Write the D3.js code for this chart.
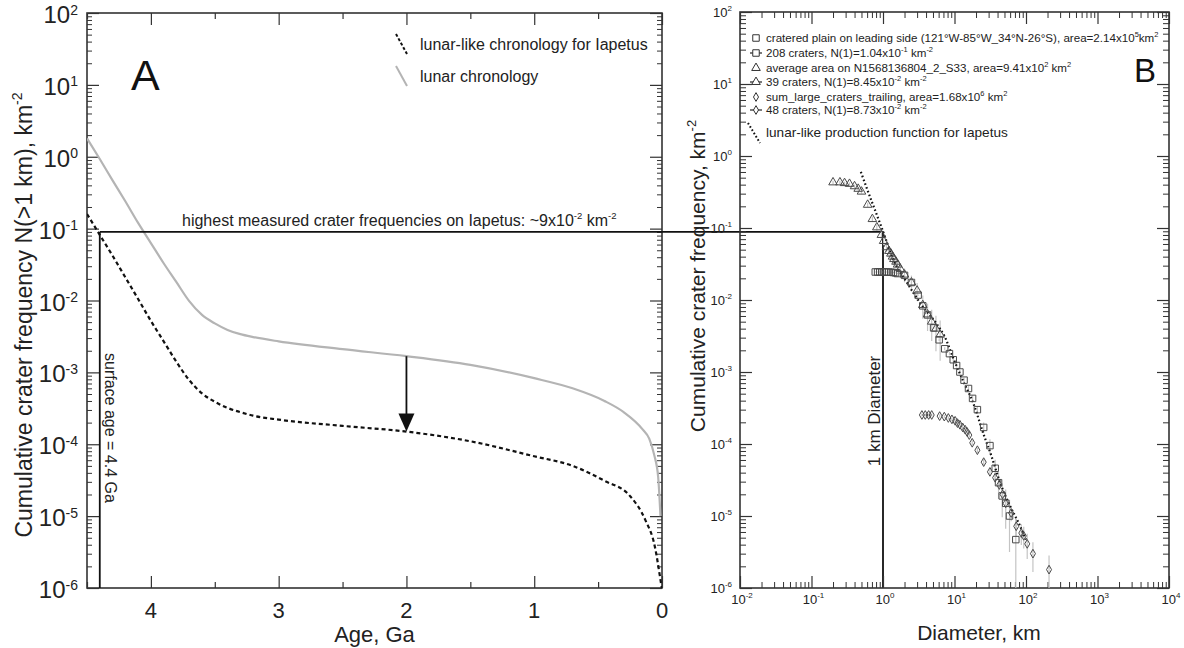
<!DOCTYPE html>
<html>
<head>
<meta charset="utf-8">
<script src="https://cdn.jsdelivr.net/npm/d3@7"></script>
<style>
  html, body { margin: 0; padding: 0; background: #fff; }
  svg { display: block; font-family: "Liberation Sans", Arial, Helvetica, sans-serif; }
</style>
</head>
<body>
<svg id="chart" width="1184" height="648"></svg>
<script>
// ---------- Panel A: crater frequency N(>1 km) versus surface age ----------
const lunarAges = [4.5, 4.4, 4.3, 4.2, 4.1, 4.0, 3.9, 3.8, 3.7, 3.6, 3.5, 3.4, 3.3, 3.2, 3.0,
                   2.5, 2.0, 1.5, 1.0, 0.7, 0.45, 0.3, 0.15, 0.1, 0.06, 0.03, 0.012];
const lunarN    = [1.8, 0.93, 0.47, 0.24, 0.12, 0.063, 0.033, 0.018, 0.0098, 0.0063, 0.0048, 0.0039,
                   0.0034, 0.0031, 0.0027, 0.0021, 0.00168, 0.00127, 0.00083, 0.0006, 0.0004,
                   0.00028, 0.00016, 0.00012, 0.00007, 0.000035, 0.00001];

const iapetusAges = [4.5, 4.4, 4.3, 4.2, 4.1, 4.0, 3.9, 3.8, 3.7, 3.6, 3.5, 3.4, 3.3, 3.2, 3.0,
                     2.5, 2.0, 1.5, 1.0, 0.7, 0.45, 0.25, 0.13, 0.055, 0.016, 0.002];
const iapetusN    = [0.16, 0.082, 0.042, 0.021, 0.0105, 0.0052, 0.0027, 0.0014, 0.00078, 0.00051,
                     0.00039, 0.00032, 0.00028, 0.00025, 0.00022, 0.00018, 0.00015, 0.00011,
                     0.000068, 0.00005, 0.000031, 0.000019, 0.0000088, 0.0000037, 0.00000145, 0.000001];

const ageMajorTicks = [4, 3, 2, 1, 0];
const ageMinorTicks = [4.5, 3.5, 2.5, 1.5, 0.5];
const freqExponents = [2, 1, 0, -1, -2, -3, -4, -5, -6];
const diamExponents = [-2, -1, 0, 1, 2, 3, 4];

const highestN = 0.09;      // highest measured N(1) on Iapetus
const surfaceAge = 4.4;     // Ga
const arrowAge = 2.0;       // Ga

// ---------- Panel B: cumulative size-frequency distributions ----------
// cratered plain on the leading side (squares)
const plainD = [0.78, 0.84, 0.9, 0.97, 1.04, 1.12, 1.2, 1.3, 1.4, 1.5, 1.6, 2.0, 2.5, 3.1, 3.6,
                4.2, 5.1, 6.1, 7.3, 8.5, 9.6, 10.7, 11.9, 13.6, 15.7, 17.9, 20.9, 25.6, 31.3,
                37.1, 41.3, 46.5, 52, 58.8, 72];
const plainN = [0.0245, 0.0245, 0.0245, 0.0245, 0.0245, 0.0245, 0.0244, 0.0243, 0.0241, 0.0238,
                0.0233, 0.022, 0.0175, 0.0117, 0.0083, 0.0062, 0.0041, 0.0028, 0.0021, 0.0018,
                0.00148, 0.00123, 0.001, 0.00077, 0.00059, 0.00043, 0.0003, 0.00017, 0.000095,
                0.000046, 0.000029, 0.000019, 0.000015, 0.00001, 0.0000047];
const plainArea = 2.14e5;

// average area on N1568136804_2_S33 (triangles)
const avgD = [0.2, 0.25, 0.29, 0.34, 0.4, 0.45, 0.5, 0.61, 0.71, 0.82, 0.95, 1.02, 1.12, 1.21,
              1.29, 1.36, 1.42, 1.52, 1.6, 1.75, 2.0, 2.5, 3.0, 3.6, 4.2, 4.8, 5.5, 6.3];
const avgN = [0.43, 0.43, 0.42, 0.41, 0.38, 0.35, 0.32, 0.21, 0.133, 0.102, 0.08, 0.066, 0.054,
              0.048, 0.044, 0.04, 0.037, 0.034, 0.031, 0.027, 0.0225, 0.0175, 0.0135, 0.0085,
              0.0063, 0.005, 0.004, 0.0033];
const avgArea = 9.41e2;

// sum of large craters on the trailing side (diamonds)
const trailD = [3.5, 3.9, 4.35, 4.8, 6.2, 7.2, 8.2, 9.2, 10.2, 11.0, 11.9, 13.0, 14.1, 15.0, 16.1,
                17.7, 20.9, 25.6, 31.3, 37, 42.3, 47, 52, 62, 73, 86, 93, 104, 125, 210];
const trailN = [2.53e-4, 2.53e-4, 2.53e-4, 2.53e-4, 2.44e-4, 2.4e-4, 2.3e-4, 2.2e-4, 2.1e-4,
                1.95e-4, 1.85e-4, 1.7e-4, 1.58e-4, 1.47e-4, 1.33e-4, 1.04e-4, 8.2e-5, 5.6e-5,
                4.1e-5, 3.4e-5, 2.7e-5, 2.0e-5, 1.5e-5, 1.1e-5, 7.2e-6, 5.8e-6, 5.3e-6, 4.1e-6,
                3.0e-6, 1.8e-6];
const trailArea = 1.68e6;

// lunar-like production function for Iapetus (dotted)
const prodD = [0.49, 0.7, 1.0, 1.4, 2.15, 3.6, 5.6, 7.3, 9.6, 13.2, 18.3, 25.3, 33.2, 43.5, 60, 78.5, 100];
const prodN = [0.6, 0.23, 0.09, 0.036, 0.0176, 0.0081, 0.0047, 0.0031, 0.00156, 0.00075, 0.00037,
               0.00014, 0.000066, 0.000029, 0.0000137, 0.0000081, 0.0000047];

// ---------- layout ----------
const AXIS = "#333";
const svg = d3.select("#chart");

const PA = { x0: 87, x1: 662, y0: 13, y1: 588 };
const PB = { x0: 740, x1: 1169, y0: 12, y1: 588 };

const xAge = d3.scaleLinear().domain([4.5, 0]).range([PA.x0, PA.x1]);
const yA = d3.scaleLog().domain([1e-6, 1e2]).range([PA.y1, PA.y0]);
const xD = d3.scaleLog().domain([1e-2, 1e4]).range([PB.x0, PB.x1]);
const yB = d3.scaleLog().domain([1e-6, 1e2]).range([PB.y1, PB.y0]);

const decades = d3.range(-6, 3).map(e => Math.pow(10, e));
const minorFreq = [];
for (let e = -6; e < 2; e++) for (let m = 2; m <= 9; m++) minorFreq.push(m * Math.pow(10, e));
const diamDecades = diamExponents.map(e => Math.pow(10, e));
const minorDiam = [];
for (let e = -2; e < 4; e++) for (let m = 2; m <= 9; m++) minorDiam.push(m * Math.pow(10, e));

// text with superscript parts: parts = ["10", ["-2"]]
function rich(sel, parts, fs, ss, rise) {
  let off = 0;
  parts.forEach(p => {
    const sup = Array.isArray(p);
    const want = sup ? -rise : 0;
    sel.append("tspan")
      .attr("dy", want - off)
      .attr("font-size", sup ? ss : fs)
      .text(sup ? p[0] : p);
    off = want;
  });
  return sel;
}

function tickGroup(axisFn, scale, values, size, transform, width) {
  svg.append("g")
    .attr("transform", transform)
    .call(axisFn(scale).tickValues(values).tickSize(size).tickSizeOuter(0).tickFormat(""))
    .call(g => g.select(".domain").remove())
    .call(g => g.selectAll("text").remove())
    .call(g => g.selectAll("line").attr("stroke", AXIS).attr("stroke-width", width || 1.2));
}

// ---------- Panel A axes ----------
tickGroup(d3.axisLeft, yA, decades, -12, `translate(${PA.x0},0)`);
tickGroup(d3.axisLeft, yA, minorFreq, -5, `translate(${PA.x0},0)`, 1);
tickGroup(d3.axisRight, yA, decades, -12, `translate(${PA.x1},0)`);
tickGroup(d3.axisRight, yA, minorFreq, -5, `translate(${PA.x1},0)`, 1);
tickGroup(d3.axisBottom, xAge, ageMajorTicks, -12, `translate(0,${PA.y1})`);
tickGroup(d3.axisBottom, xAge, ageMinorTicks, -6, `translate(0,${PA.y1})`);
tickGroup(d3.axisTop, xAge, ageMajorTicks, -12, `translate(0,${PA.y0})`);
tickGroup(d3.axisTop, xAge, ageMinorTicks, -6, `translate(0,${PA.y0})`);

svg.append("rect")
  .attr("x", PA.x0).attr("y", PA.y0)
  .attr("width", PA.x1 - PA.x0).attr("height", PA.y1 - PA.y0)
  .attr("fill", "none").attr("stroke", AXIS).attr("stroke-width", 1.6);

freqExponents.forEach(e => {
  const t = svg.append("text")
    .attr("x", PA.x0 - 9).attr("y", yA(Math.pow(10, e)) + 10)
    .attr("text-anchor", "end").attr("fill", "#222");
  rich(t, ["10", [String(e)]], 24, 14, 8.5);
});

ageMajorTicks.forEach(a => {
  svg.append("text")
    .attr("x", xAge(a)).attr("y", PA.y1 + 30)
    .attr("text-anchor", "middle").attr("font-size", 22).attr("fill", "#222")
    .text(String(a));
});

svg.append("text")
  .attr("x", (PA.x0 + PA.x1) / 2).attr("y", 642)
  .attr("text-anchor", "middle").attr("font-size", 22).attr("fill", "#222")
  .text("Age, Ga");

{
  const t = svg.append("text")
    .attr("transform", `translate(32,${315}) rotate(-90)`)
    .attr("text-anchor", "middle").attr("fill", "#222");
  rich(t, ["Cumulative crater frequency N(>1 km), km", ["-2"]], 23, 14, 10);
}

svg.append("text")
  .attr("x", 131).attr("y", 90)
  .attr("font-size", 43).attr("fill", "#111")
  .text("A");

// ---------- Panel A curves ----------
svg.append("clipPath").attr("id", "clipA")
  .append("rect").attr("x", PA.x0).attr("y", PA.y0)
  .attr("width", PA.x1 - PA.x0).attr("height", PA.y1 - PA.y0);

const lineA = d3.line().x(d => xAge(d[0])).y(d => yA(d[1])).curve(d3.curveMonotoneX);
const gA = svg.append("g").attr("clip-path", "url(#clipA)");

gA.append("path")
  .datum(lunarAges.map((a, i) => [a, lunarN[i]]))
  .attr("d", lineA)
  .attr("fill", "none").attr("stroke", "#b4b4b4").attr("stroke-width", 2.2);

gA.append("path")
  .datum(iapetusAges.map((a, i) => [a, iapetusN[i]]))
  .attr("d", lineA)
  .attr("fill", "none").attr("stroke", "#111").attr("stroke-width", 2.2)
  .attr("stroke-dasharray", "4,3");

// arrow from the lunar curve down to the Iapetus curve
{
  const ax = xAge(arrowAge);
  const yTop = yA(lunarN[lunarAges.indexOf(arrowAge)]);
  const yTip = yA(iapetusN[iapetusAges.indexOf(arrowAge)]);
  const headL = 18, headW = 8;
  svg.append("line")
    .attr("x1", ax).attr("x2", ax).attr("y1", yTop).attr("y2", yTip - headL + 2)
    .attr("stroke", "#111").attr("stroke-width", 1.8);
  svg.append("path")
    .attr("d", `M${ax - headW},${yTip - headL} L${ax + headW},${yTip - headL} L${ax},${yTip} Z`)
    .attr("fill", "#111");
}

// legend of panel A
{
  svg.append("line").attr("x1", 396).attr("y1", 34).attr("x2", 407).attr("y2", 54)
    .attr("stroke", "#111").attr("stroke-width", 2).attr("stroke-dasharray", "3,2");
  svg.append("text").attr("x", 420).attr("y", 50).attr("font-size", 16).attr("fill", "#222")
    .text("lunar-like chronology for Iapetus");
  svg.append("line").attr("x1", 396).attr("y1", 66).attr("x2", 407).attr("y2", 86)
    .attr("stroke", "#b4b4b4").attr("stroke-width", 2);
  svg.append("text").attr("x", 420).attr("y", 82).attr("font-size", 16).attr("fill", "#222")
    .text("lunar chronology");
}

// ---------- reference lines joining both panels ----------
{
  const yH = yA(highestN);
  const xS = xAge(surfaceAge);
  const x1 = xD(1);
  svg.append("line").attr("x1", xS).attr("x2", x1).attr("y1", yH).attr("y2", yH)
    .attr("stroke", "#111").attr("stroke-width", 1.8);
  svg.append("line").attr("x1", xS).attr("x2", xS).attr("y1", yH).attr("y2", PA.y1)
    .attr("stroke", "#111").attr("stroke-width", 1.8);
  svg.append("line").attr("x1", x1).attr("x2", x1).attr("y1", yB(highestN)).attr("y2", PB.y1)
    .attr("stroke", "#111").attr("stroke-width", 1.8);

  const t = svg.append("text").attr("x", 182).attr("y", yH - 6).attr("fill", "#222");
  rich(t, ["highest measured crater frequencies on Iapetus: ~9x10", ["-2"], " km", ["-2"]], 16, 9.5, 7);

  svg.append("text")
    .attr("transform", `translate(${xS + 5},353) rotate(90)`)
    .attr("font-size", 16).attr("fill", "#222")
    .text("surface age = 4.4 Ga");

  svg.append("text")
    .attr("transform", `translate(${x1 - 3},411) rotate(-90)`)
    .attr("text-anchor", "middle")
    .attr("font-size", 17).attr("fill", "#222")
    .text("1 km Diameter");
}

// ---------- Panel B axes ----------
tickGroup(d3.axisLeft, yB, decades, -12, `translate(${PB.x0},0)`);
tickGroup(d3.axisLeft, yB, minorFreq, -6, `translate(${PB.x0},0)`, 1);
tickGroup(d3.axisRight, yB, decades, -12, `translate(${PB.x1},0)`);
tickGroup(d3.axisRight, yB, minorFreq, -6, `translate(${PB.x1},0)`, 1);
tickGroup(d3.axisBottom, xD, diamDecades, -12, `translate(0,${PB.y1})`);
tickGroup(d3.axisBottom, xD, minorDiam, -6, `translate(0,${PB.y1})`, 1);
tickGroup(d3.axisTop, xD, diamDecades, -12, `translate(0,${PB.y0})`);
tickGroup(d3.axisTop, xD, minorDiam, -6, `translate(0,${PB.y0})`, 1);

svg.append("rect")
  .attr("x", PB.x0).attr("y", PB.y0)
  .attr("width", PB.x1 - PB.x0).attr("height", PB.y1 - PB.y0)
  .attr("fill", "none").attr("stroke", AXIS).attr("stroke-width", 1.6);

freqExponents.forEach(e => {
  const t = svg.append("text")
    .attr("x", PB.x0 - 8).attr("y", yB(Math.pow(10, e)) + 5)
    .attr("text-anchor", "end").attr("fill", "#222");
  rich(t, ["10", [String(e)]], 13, 8, 6);
});

diamExponents.forEach(e => {
  const t = svg.append("text")
    .attr("x", xD(Math.pow(10, e)) + 2).attr("y", PB.y1 + 16)
    .attr("text-anchor", "middle").attr("fill", "#222");
  rich(t, ["10", [String(e)]], 13, 8, 6);
});

svg.append("text")
  .attr("x", 979).attr("y", 640)
  .attr("text-anchor", "middle").attr("font-size", 21).attr("fill", "#222")
  .text("Diameter, km");

{
  const t = svg.append("text")
    .attr("transform", `translate(705,276) rotate(-90)`)
    .attr("text-anchor", "middle").attr("fill", "#222");
  rich(t, ["Cumulative crater frequency, km", ["-2"]], 21, 13, 9);
}

svg.append("text")
  .attr("x", 1134).attr("y", 82)
  .attr("font-size", 33).attr("fill", "#111")
  .text("B");

// ---------- Panel B data ----------
svg.append("clipPath").attr("id", "clipB")
  .append("rect").attr("x", PB.x0).attr("y", PB.y0)
  .attr("width", PB.x1 - PB.x0).attr("height", PB.y1 - PB.y0);
const gB = svg.append("g").attr("clip-path", "url(#clipB)");

const MARK = "#4a4a4a";
const symSquare = d3.symbol().type(d3.symbolSquare).size(42);
const symTriangle = d3.symbol().type(d3.symbolTriangle).size(32);
const symDiamond = d3.symbol().type(d3.symbolDiamond).size(22);

function series(D, N, area) {
  const pts = D.map((d, i) => ({ d, n: N[i] }));
  // Poisson error bars from the crater count in the counting area
  gB.append("g").selectAll("line").data(pts).join("line")
    .attr("x1", p => xD(p.d)).attr("x2", p => xD(p.d))
    .attr("y1", p => yB(p.n + Math.sqrt(p.n / area)))
    .attr("y2", p => {
      const lo = p.n - Math.sqrt(p.n / area);
      return lo > 1e-7 ? yB(lo) : PB.y1 + 5;
    })
    .attr("stroke", "#c4c4c4").attr("stroke-width", 1.2);
  return pts;
}
function markers(pts, sym) {
  gB.append("g").selectAll("path").data(pts).join("path")
    .attr("transform", p => `translate(${xD(p.d)},${yB(p.n)})`)
    .attr("d", sym)
    .attr("fill", "none").attr("stroke", MARK).attr("stroke-width", 1);
}

const plainPts = series(plainD, plainN, plainArea);
const avgPts = series(avgD, avgN, avgArea);
const trailPts = series(trailD, trailN, trailArea);

gB.append("path")
  .datum(prodD.map((d, i) => [d, prodN[i]]))
  .attr("d", d3.line().x(p => xD(p[0])).y(p => yB(p[1])).curve(d3.curveMonotoneX))
  .attr("fill", "none").attr("stroke", "#111").attr("stroke-width", 2.2)
  .attr("stroke-dasharray", "1.6,2.4");

markers(plainPts, symSquare);
markers(avgPts, symTriangle);
markers(trailPts, symDiamond);

// legend of panel B
{
  const lx = 756, tx = 766, fs = 11.6;
  const rows = [
    { y: 38, sym: symSquare, line: false,
      parts: ["cratered plain on leading side (121°W-85°W_34°N-26°S), area=2.14x10", ["5"], "km", ["2"]] },
    { y: 53, sym: symSquare, line: true,
      parts: ["208 craters, N(1)=1.04x10", ["-1"], " km", ["-2"]] },
    { y: 68, sym: symTriangle, line: false,
      parts: ["average area on N1568136804_2_S33, area=9.41x10", ["2"], " km", ["2"]] },
    { y: 82, sym: symTriangle, line: true,
      parts: ["39 craters, N(1)=8.45x10", ["-2"], " km", ["-2"]] },
    { y: 97, sym: symDiamond, line: false,
      parts: ["sum_large_craters_trailing, area=1.68x10", ["6"], " km", ["2"]] },
    { y: 110, sym: symDiamond, line: true,
      parts: ["48 craters, N(1)=8.73x10", ["-2"], " km", ["-2"]] }
  ];
  rows.forEach(r => {
    if (r.line) {
      svg.append("line").attr("x1", lx - 6).attr("x2", lx + 6).attr("y1", r.y).attr("y2", r.y)
        .attr("stroke", "#333").attr("stroke-width", 1.3);
    }
    svg.append("path").attr("transform", `translate(${lx},${r.y})`).attr("d", r.sym)
      .attr("fill", r.line ? "#fff" : "none").attr("stroke", "#333").attr("stroke-width", 1);
    const t = svg.append("text").attr("x", tx).attr("y", r.y + 4).attr("fill", "#222");
    rich(t, r.parts, fs, 7.5, 5);
  });
  svg.append("line").attr("x1", 748).attr("y1", 123).attr("x2", 760).attr("y2", 143)
    .attr("stroke", "#111").attr("stroke-width", 2).attr("stroke-dasharray", "1.6,2.2");
  svg.append("text").attr("x", tx).attr("y", 137).attr("font-size", 13.6).attr("fill", "#222")
    .text("lunar-like production function for Iapetus");
}
</script>
</body>
</html>
